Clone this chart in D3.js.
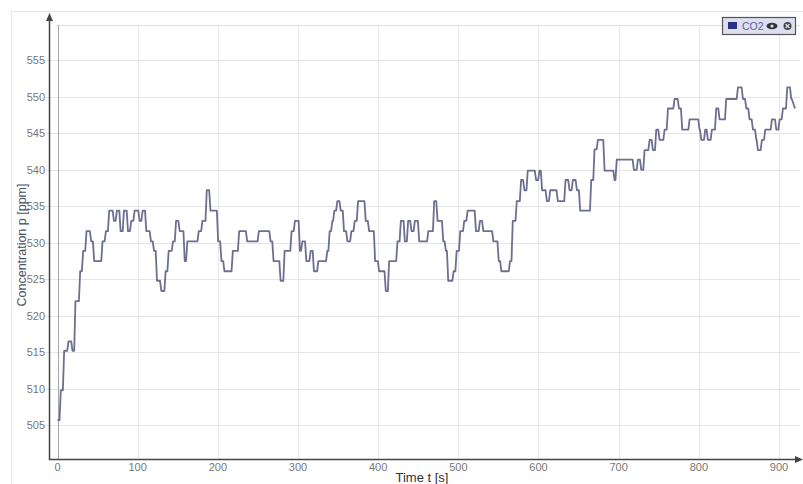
<!DOCTYPE html>
<html><head><meta charset="utf-8">
<script src="https://cdn.jsdelivr.net/npm/d3@7"></script>
<style>
html,body{margin:0;padding:0;background:#fff;overflow:hidden;}
svg{display:block;font-family:"Liberation Sans",Arial,sans-serif;}
</style></head>
<body>
<svg id="c" width="803" height="484"></svg>
<script>
// ---- data: CO2 concentration (step changes) ----
const startTime = 0;
const startValue = 505.7;
const changeTimes = [2.5,6.7,12.1,17.1,20.8,26.7,30.4,34.6,40.4,44.2,54.6,58.8,62.9,68.8,72.5,77.1,81.3,86.3,90.4,94.6,100.8,104.6,109.2,115.0,118.8,122.5,127.9,133.3,137.1,142.5,146.3,150.8,157.1,160.4,174.6,179.2,184.6,189.2,198.8,202.9,206.7,217.1,225.0,235.0,249.6,264.2,267.9,276.7,281.7,290.4,294.6,300.8,303.8,308.8,314.2,318.3,323.8,335.0,337.9,341.3,343.8,347.5,351.7,355.8,360.0,365.0,369.2,373.3,382.9,387.1,394.6,399.6,407.9,412.1,422.5,426.7,431.7,435.8,440.0,444.2,449.6,461.0,468.3,472.5,479.6,482.9,485.8,492.5,496.3,500.8,505.8,510.0,520.4,525.4,529.6,542.1,548.8,552.1,562.9,566.3,571.3,576.7,580.8,585.0,595.4,599.6,602.9,608.8,613.0,622.5,632.1,637.1,641.3,646.3,650.4,664.2,668.3,672.5,680.8,693.3,696.0,717.4,722.4,726.6,730.7,737.0,741.1,745.3,749.4,755.7,759.9,768.2,773.6,777.7,786.9,799.3,801.4,806.4,809.7,814.7,820.1,824.3,832.6,847.2,853.4,857.6,861.7,865.9,870.1,872.1,877.1,881.3,889.6,895.0,899.2,903.3,908.7,913.7];
const changeValues = [509.8,515.2,516.5,515.2,522.0,526.1,528.9,531.6,530.2,527.5,530.2,531.6,534.4,533.0,534.4,531.6,534.4,531.6,533.0,534.4,533.0,534.4,531.6,530.2,528.9,524.8,523.4,526.1,528.9,530.2,533.0,531.6,527.5,530.2,531.6,533.0,537.2,534.4,530.2,527.5,526.1,528.9,531.6,530.2,531.6,530.2,527.5,524.8,528.9,531.6,533.0,528.9,530.2,527.5,528.9,526.1,527.5,528.9,531.6,533.0,534.4,535.7,534.4,531.6,530.2,531.6,533.0,535.7,533.0,531.6,527.5,526.1,523.4,527.5,530.2,533.0,530.2,533.0,531.6,533.0,530.2,531.6,535.7,533.0,530.2,528.9,524.8,526.1,528.9,531.6,533.0,534.4,531.6,533.0,531.6,530.2,527.5,526.1,527.5,533.0,535.7,538.6,537.2,539.9,538.6,539.9,537.2,535.7,537.2,535.7,538.6,537.2,538.6,537.2,534.4,538.6,542.8,544.1,539.9,538.6,541.4,540.0,541.4,540.0,542.7,544.1,542.7,545.5,544.1,545.5,548.4,549.7,548.4,545.5,546.9,545.5,544.1,545.5,544.1,545.5,548.4,546.9,549.7,551.3,549.7,548.4,546.9,545.5,544.1,542.7,544.1,545.5,546.9,545.5,546.9,548.4,551.3,549.7];
const endTime = 920;
const endValue = 548.4;
const xTicks = [0,100,200,300,400,500,600,700,800,900];
const yTicks = [505,510,515,520,525,530,535,540,545,550,555];
const seriesName = "CO2";
const xTitle = "Time t [s]";
const yTitle = "Concentration p [ppm]";

// ---- build line points ----
const ramp = 1.6;
const pts = [[startTime, startValue]];
let prev = startValue;
changeTimes.forEach((t,i)=>{
  pts.push([t, prev]);
  pts.push([t+ramp, changeValues[i]]);
  prev = changeValues[i];
});
pts.push([endTime-4, prev]);
pts.push([endTime, endValue]);

const svg = d3.select("#c");
const W = 803, H = 484;
const x = d3.scaleLinear().domain([0,900]).range([57.5,779]);
const y = d3.scaleLinear().domain([505,555]).range([425.3,60.3]);
const axisX = 49, axisY = 459, topY = 25, rightX = 800;

// outer frame
svg.append("path").attr("d",`M11.5,${H} V11.5 H${W}`).attr("fill","none").attr("stroke","#e6e6e6").attr("stroke-width",1);
// plot top border
svg.append("line").attr("x1",57).attr("x2",rightX).attr("y1",topY+0.5).attr("y2",topY+0.5).attr("stroke","#e2e2e2");

// grid
const g = svg.append("g");
g.selectAll(".hy").data(yTicks).join("line")
  .attr("x1",45).attr("x2",rightX)
  .attr("y1",d=>Math.round(y(d))+0.5).attr("y2",d=>Math.round(y(d))+0.5)
  .attr("stroke","#e6e6e6");
g.selectAll(".vx").data(xTicks).join("line")
  .attr("x1",d=>Math.round(x(d))+0.5).attr("x2",d=>Math.round(x(d))+0.5)
  .attr("y1",topY).attr("y2",axisY)
  .attr("stroke",d=>d===0?"#a8a8a8":"#e6e6e6");

// tick labels
svg.selectAll(".yl").data(yTicks).join("text")
  .attr("x",45).attr("y",d=>y(d)+4).attr("text-anchor","end")
  .attr("font-size",11).attr("fill","#777").text(d=>d);
svg.selectAll(".xl").data(xTicks).join("text")
  .attr("x",d=>x(d)).attr("y",471).attr("text-anchor","middle")
  .attr("font-size",11).attr("fill","#777").text(d=>d);

// axes with arrows
svg.append("line").attr("x1",axisX+0.5).attr("x2",axisX+0.5).attr("y1",axisY+1).attr("y2",18).attr("stroke","#444").attr("stroke-width",1.5);
svg.append("path").attr("d",`M${axisX+0.5},13 L${axisX-3},21 L${axisX+4},21 Z`).attr("fill","#444");
svg.append("line").attr("x1",axisX).attr("x2",W-3).attr("y1",axisY+0.5).attr("y2",axisY+0.5).attr("stroke","#444").attr("stroke-width",1.5);
svg.append("path").attr("d",`M${W},${axisY+0.5} L${W-8},${axisY-3} L${W-8},${axisY+4} Z`).attr("fill","#444");

// titles
svg.append("text").attr("x",422).attr("y",482).attr("text-anchor","middle")
  .attr("font-size",13).attr("fill","#333").text(xTitle);
svg.append("text").attr("transform","translate(26,245) rotate(-90)").attr("text-anchor","middle")
  .attr("font-size",12.5).attr("fill","#4a4f6a").text(yTitle);

// line
const line = d3.line().x(d=>x(d[0])).y(d=>y(d[1]));
svg.append("path").datum(pts).attr("d",line).attr("fill","none")
  .attr("stroke","#6c7090").attr("stroke-width",1.8).attr("stroke-linejoin","round");

// legend
const lg = svg.append("g");
lg.append("rect").attr("x",722.5).attr("y",17.5).attr("width",73).attr("height",17)
  .attr("fill","#dcdfef").attr("stroke","#555").attr("stroke-width",1.2);
lg.append("rect").attr("x",728).attr("y",22).attr("width",9).attr("height",7).attr("fill","#2d3282");
lg.append("text").attr("x",742).attr("y",30).attr("font-size",10.5).attr("fill","#5b60a0").text(seriesName);
lg.append("ellipse").attr("cx",772).attr("cy",26).attr("rx",5.5).attr("ry",3.2).attr("fill","#333");
lg.append("circle").attr("cx",772).attr("cy",26).attr("r",1.6).attr("fill","#dcdfef");
lg.append("circle").attr("cx",787.5).attr("cy",26).attr("r",4).attr("fill","#444");
lg.append("path").attr("d","M785.5,24 L789.5,28 M789.5,24 L785.5,28").attr("stroke","#dcdfef").attr("stroke-width",1.2);
</script>
</body></html>
